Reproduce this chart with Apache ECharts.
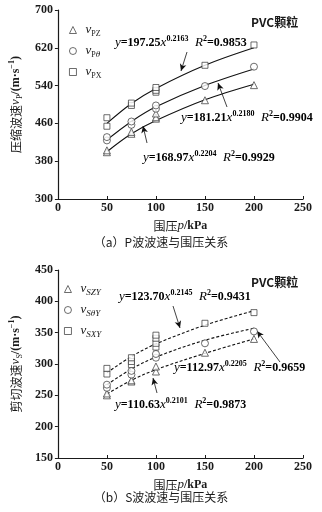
<!DOCTYPE html>
<html><head><meta charset="utf-8">
<script src="https://cdn.jsdelivr.net/npm/echarts@6/dist/echarts.min.js"></script>
<style>html,body{margin:0;padding:0;background:#fff}#c{width:322px;height:512px}</style>
</head><body><div id="c"></div>
<script>
// ---- data: (a) P-wave ----
const pzX = [50,50,75,75,100,100,100,150,200];
const pzY = [399,403,438,442,470,473,481,509,541];
const ptX = [50,50,75,75,100,100,150,200];
const ptY = [424,431,457,464,491,498,539,580];
const pxX = [50,50,75,75,100,100,100,150,200];
const pxY = [454,472,498,503,526,530,536,583,626];
const fitPX = [50,75,100,150,200];
const fitPxY = [460,502,534,583,620];
const fitPtY = [425,464,495,540,575];
const fitPzY = [400,438,466,510,543];
const pTicks = [300,380,460,540,620,700];
// ---- data: (b) S-wave ----
const szX = [50,50,75,75,100,100,150,200];
const szY = [250,253,272,274,288,296,318,340];
const stX = [50,50,75,75,100,100,150,200];
const stY = [262,267,283,289,310,316,333,352];
const sxX = [50,50,75,75,75,100,100,100,100,150,200];
const sxY = [284,293,299,304,310,327,333,341,346,365,382];
const fitSX = [50,75,100,150,200];
const fitSxY = [286,312,332,362,385];
const fitStY = [267,292,311,338,357];
const fitSzY = [252,274,291,317,340];
const xTicks = [0,50,100,150,200,250];

const zip = (a,b)=>a.map((v,i)=>[v,b[i]]);
const SERIF = '"Liberation Serif","Noto Sans CJK SC",serif';
const CJK = '"Noto Sans CJK SC","Liberation Serif",sans-serif';
const INK = '#1a1a1a';

const rich = {
  cn:{fontFamily:CJK,fontSize:12,color:INK,lineHeight:16},
  i:{fontFamily:SERIF,fontStyle:'italic',fontSize:13,color:INK,lineHeight:16},
  t:{fontFamily:SERIF,fontWeight:'bold',fontSize:12,color:INK,lineHeight:16},
  n:{fontFamily:SERIF,fontSize:12,color:INK,lineHeight:16},
  sub:{fontFamily:SERIF,fontSize:8,color:INK,lineHeight:16,verticalAlign:'bottom'},
  subi:{fontFamily:SERIF,fontStyle:'italic',fontSize:9,color:INK,lineHeight:16,verticalAlign:'bottom'},
  sup:{fontFamily:SERIF,fontSize:8,color:INK,lineHeight:16,verticalAlign:'top'},
  supb:{fontFamily:SERIF,fontSize:8,fontWeight:'bold',color:INK,lineHeight:16,verticalAlign:'top'}
};
const hollow = {color:'#fff', borderColor:'#333', borderWidth:0.9};

function scat(name, xs, ys, sym, xi){
  return {type:'scatter', name, xAxisIndex:xi, yAxisIndex:xi, data:zip(xs,ys),
    symbol:sym, symbolSize: sym==='circle'?7:(sym==='rect'?6:7),
    itemStyle:hollow, z:5};
}
function fit(xs, ys, xi, dashed, arrow){
  const s = {type:'line', xAxisIndex:xi, yAxisIndex:xi, data:zip(xs,ys), smooth:0.35,
    showSymbol:false, symbol:'none', lineStyle:{color:'#111', width:1.1, type: dashed?[3,2]:'solid'}, z:3, silent:true};
  if(arrow){
    s.markLine = {silent:true, symbol:['none','arrow'], symbolSize:[5,7],
      lineStyle:{color:'#111', width:0.8, type:'solid'}, label:{show:false},
      data:[[{x:arrow[0],y:arrow[1]},{x:arrow[2],y:arrow[3]}]]};
  }
  return s;
}
function eq(a,b,c){ return '{i|y}{t|='+a+'}{i|x}{supb|'+b+'}  {i|R}{supb|2}{t|='+c+'}'; }

const legendNames = {
  'vPZ':'{i|v}{sub|PZ}', 'vPθ':'{i|v}{sub|P}{subi|θ}', 'vPX':'{i|v}{sub|PX}',
  'vSZY':'{i|v}{subi|SZY}', 'vSθY':'{i|v}{subi|SθY}', 'vSXY':'{i|v}{subi|SXY}'
};

function xAx(gi){
  return {type:'value', gridIndex:gi, min:0, max:250, interval:50,
    name:'{cn|围压}{i|p}{t|/kPa}', nameLocation:'middle', nameGap:19,
    nameTextStyle:{rich},
    axisLine:{lineStyle:{color:INK,width:1.2}},
    axisTick:{inside:true,length:3,lineStyle:{color:INK}},
    axisLabel:{fontFamily:SERIF,fontWeight:'bold',fontSize:12,color:INK,margin:3,
      customValues:xTicks},
    splitLine:{show:false}};
}
function leg(names, left, top){
  return {data:names.map(n=>({name:n, itemStyle:hollow})), left, top, orient:'vertical',
    itemWidth:7, itemHeight:7, itemGap:5, itemStyle:hollow,
    formatter:n=>legendNames[n], textStyle:{rich, lineHeight:14, padding:[0,0,0,4]}};
}

const option = {
  animation:false,
  backgroundColor:'#fff',
  grid:[{left:48,right:19,top:10,height:189},{left:48,right:19,top:270,height:188}],
  xAxis:[xAx(0), xAx(1)],
  yAxis:[
    {type:'value', gridIndex:0, min:300, max:700,
     name:'{cn|压缩波速}{i|v}{sub|P}{t|/(m·s}{supb|−1}{t|)}', nameLocation:'middle', nameGap:32, nameRotate:90,
     nameTextStyle:{rich},
     axisLine:{show:true,lineStyle:{color:INK,width:1.2}},
     axisTick:{show:true,length:3,lineStyle:{color:INK},customValues:pTicks},
     axisLabel:{fontFamily:SERIF,fontWeight:'bold',fontSize:12,color:INK,margin:5,customValues:pTicks},
     splitLine:{show:false}},
    {type:'value', gridIndex:1, min:150, max:450, interval:50,
     name:'{cn|剪切波速}{i|v}{sub|S}{t|/(m·s}{supb|−1}{t|)}', nameLocation:'middle', nameGap:32, nameRotate:90,
     nameTextStyle:{rich},
     axisLine:{show:true,lineStyle:{color:INK,width:1.2}},
     axisTick:{show:true,length:3,lineStyle:{color:INK}},
     axisLabel:{fontFamily:SERIF,fontWeight:'bold',fontSize:12,color:INK,margin:5},
     splitLine:{show:false}}
  ],
  legend:[ leg(['vPZ','vPθ','vPX'], 64, 17), leg(['vSZY','vSθY','vSXY'], 59, 276) ],
  series:[
    fit(fitPX, fitPxY, 0, false, [187,52,181,71]),
    fit(fitPX, fitPtY, 0, false, [227,107,218,83]),
    fit(fitPX, fitPzY, 0, false, [147,143,143,126]),
    scat('vPZ', pzX, pzY, 'triangle', 0),
    scat('vPθ', ptX, ptY, 'circle', 0),
    scat('vPX', pxX, pxY, 'rect', 0),
    fit(fitSX, fitSxY, 1, true, [173,306,180,328]),
    fit(fitSX, fitStY, 1, true, [280,362,257,331]),
    fit(fitSX, fitSzY, 1, true, [157,393,153,378]),
    scat('vSZY', szX, szY, 'triangle', 1),
    scat('vSθY', stX, stY, 'circle', 1),
    scat('vSXY', sxX, sxY, 'rect', 1)
  ],
  graphic:[
    {type:'text', left:251, top:16, style:{text:'PVC颗粒', font:'bold 12px '+CJK, fill:INK}},
    {type:'text', left:251, top:276, style:{text:'PVC颗粒', font:'bold 12px '+CJK, fill:INK}},
    {type:'text', left:115, top:35, style:{text:eq('197.25','0.2163','0.9853'), rich}},
    {type:'text', left:181, top:110, style:{text:eq('181.21','0.2180','0.9904'), rich}},
    {type:'text', left:143, top:150, style:{text:eq('168.97','0.2204','0.9929'), rich}},
    {type:'text', left:119, top:289, style:{text:eq('123.70','0.2145','0.9431'), rich}},
    {type:'text', left:174, top:360, style:{text:eq('112.97','0.2205','0.9659'), rich}},
    {type:'text', left:115, top:397, style:{text:eq('110.63','0.2101','0.9873'), rich}},
    {type:'text', left:'center', top:236, style:{text:'（a）P波波速与围压关系', font:'12px '+CJK, fill:INK}},
    {type:'text', left:'center', top:491, style:{text:'（b）S波波速与围压关系', font:'12px '+CJK, fill:INK}}
  ]
};
const chart = echarts.init(document.getElementById('c'), null, {renderer:'canvas'});
chart.setOption(option);
</script></body></html>
